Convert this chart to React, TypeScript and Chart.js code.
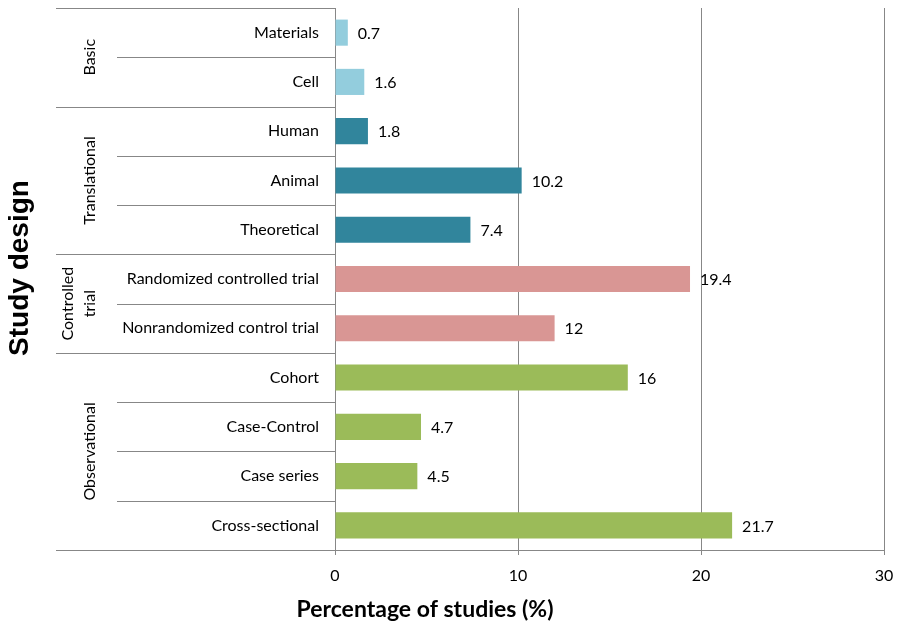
import React, { useEffect, useRef } from "react";
import { Chart, registerables } from "chart.js";

Chart.register(...registerables);

const categories = [
  "Materials",
  "Cell",
  "Human",
  "Animal",
  "Theoretical",
  "Randomized controlled trial",
  "Nonrandomized control trial",
  "Cohort",
  "Case-Control",
  "Case series",
  "Cross-sectional",
];
const values = [0.7, 1.6, 1.8, 10.2, 7.4, 19.4, 12, 16, 4.7, 4.5, 21.7];
const groupNames = [["Basic"], ["Translational"], ["Controlled", "trial"], ["Observational"]];
const groupOf = [0, 0, 1, 1, 1, 2, 2, 3, 3, 3, 3];
const xMin = 0;
const xMax = 30;
const xStep = 10;
const xTitle = "Percentage of studies (%)";
const yTitle = "Study design";

const groupColors = ["#93CDDD", "#31859C", "#D99694", "#9BBB59"];
const lineColor = "#878787";
const FONT = "Lato, 'Open Sans', sans-serif";
const ARIAL = "'Liberation Sans', Arial, sans-serif";

const overlayPlugin = {
  id: "overlay",
  afterDraw(chart: any) {
    const { ctx, chartArea } = chart;
    const y = chart.scales.y;
    const x = chart.scales.x;
    const outerLeft = 56;
    const innerLeft = 117;
    ctx.save();
    ctx.strokeStyle = lineColor;
    ctx.lineWidth = 1;
    // boundary lines
    for (let i = 0; i <= categories.length; i++) {
      const py = Math.round(y.getPixelForValue(i - 0.5)) + 0.5;
      const isGroupEdge = i === 0 || i === categories.length || groupOf[i] !== groupOf[i - 1];
      ctx.beginPath();
      ctx.moveTo(isGroupEdge ? outerLeft : innerLeft, py);
      ctx.lineTo(chartArea.left, py);
      ctx.stroke();
    }
    // group labels
    ctx.fillStyle = "#000";
    ctx.font = `16px ${FONT}`;
    ctx.textAlign = "center";
    ctx.textBaseline = "middle";
    groupNames.forEach((lines, g) => {
      const idx = groupOf.map((v, i) => (v === g ? i : -1)).filter((i) => i >= 0);
      const top = y.getPixelForValue(idx[0] - 0.5);
      const bot = y.getPixelForValue(idx[idx.length - 1] + 0.5);
      const cy = (top + bot) / 2;
      const lineGap = 22;
      const baseX = 90 - (lines.length - 1) * lineGap;
      lines.forEach((t, k) => {
        ctx.save();
        ctx.translate(baseX + k * lineGap, cy);
        ctx.rotate(-Math.PI / 2);
        ctx.fillText(t, 0, 0);
        ctx.restore();
      });
    });
    // data labels
    const meta = chart.getDatasetMeta(0);
    ctx.textAlign = "left";
    meta.data.forEach((bar: any, i: number) => {
      ctx.fillText(String(values[i]), bar.x + 10, bar.y + 1);
    });
    // y title
    ctx.font = `bold 28px ${ARIAL}`;
    ctx.textAlign = "center";
    ctx.save();
    ctx.translate(20, (chartArea.top + chartArea.bottom) / 2 - 11);
    ctx.rotate(-Math.PI / 2);
    ctx.fillText(yTitle, 0, 0);
    ctx.restore();
    // x title
    ctx.font = `bold 23px ${FONT}`;
    ctx.fillText(xTitle, x.left + 90, chartArea.bottom + 60);
    ctx.restore();
  },
};

export default function App() {
  const ref = useRef<HTMLCanvasElement>(null);
  useEffect(() => {
    if (!ref.current) return;
    const chart = new Chart(ref.current, {
      type: "bar",
      data: {
        labels: categories,
        datasets: [
          {
            data: values,
            backgroundColor: groupOf.map((g) => groupColors[g]),
            barPercentage: 0.53,
            categoryPercentage: 1,
          },
        ],
      },
      options: {
        indexAxis: "y",
        animation: false,
        responsive: true,
        maintainAspectRatio: false,
        layout: { padding: { top: 8, right: 16, left: 0, bottom: 0 } },
        plugins: { legend: { display: false }, tooltip: { enabled: false } },
        scales: {
          x: {
            min: xMin,
            max: xMax,
            ticks: { stepSize: xStep, color: "#000", font: { family: FONT, size: 16 }, padding: 11 },
            grid: { color: lineColor, tickLength: 5, drawTicks: true },
            border: { color: lineColor },
            afterFit: (s: any) => {
              s.height = 74;
              s.paddingLeft = 0;
              s.paddingRight = 0;
            },
          },
          y: {
            ticks: { color: "#000", font: { family: FONT, size: 16 }, padding: 8 },
            grid: { display: false },
            border: { color: lineColor },
            afterFit: (s: any) => {
              s.width = 335;
              s.paddingTop = 0;
              s.paddingBottom = 0;
            },
          },
        },
      },
      plugins: [overlayPlugin],
    });
    return () => chart.destroy();
  }, []);
  return (
    <div style={{ position: "absolute", left: 0, top: 0, width: 900, height: 624 }}>
      <canvas ref={ref} />
    </div>
  );
}
